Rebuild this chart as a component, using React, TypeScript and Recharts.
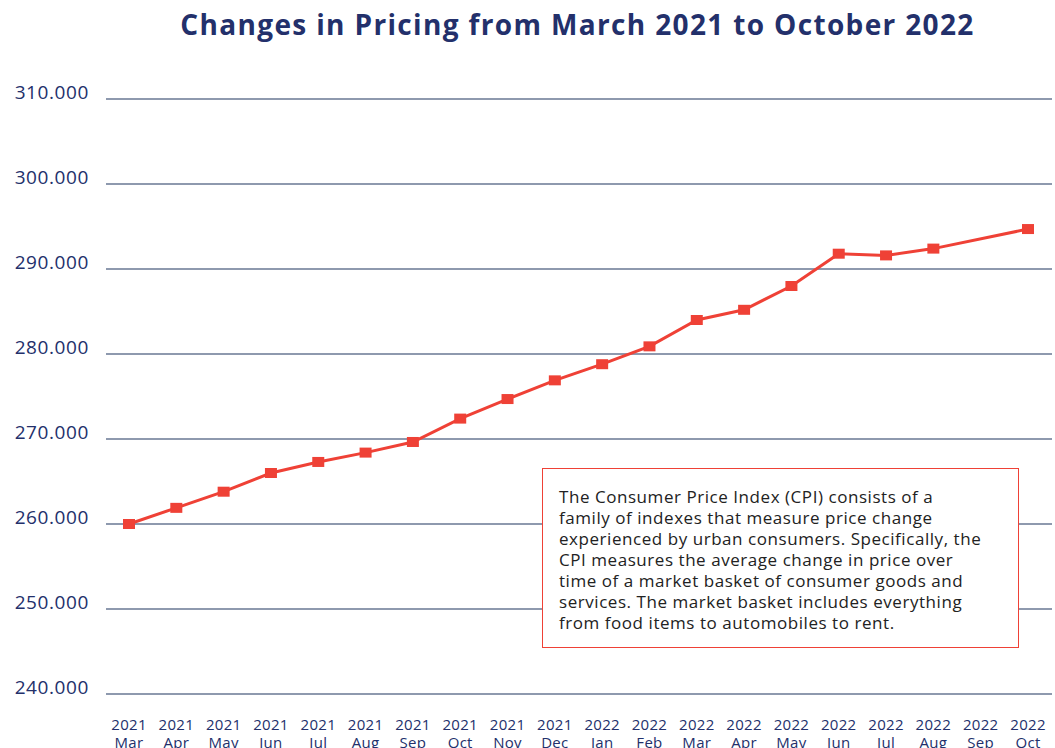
import { LineChart, Line, XAxis, YAxis, CartesianGrid } from "recharts";

const months = [
  "Mar", "Apr", "May", "Jun", "Jul", "Aug", "Sep", "Oct", "Nov", "Dec",
  "Jan", "Feb", "Mar", "Apr", "May", "Jun", "Jul", "Aug", "Sep", "Oct",
];
const years = [
  "2021", "2021", "2021", "2021", "2021", "2021", "2021", "2021", "2021", "2021",
  "2022", "2022", "2022", "2022", "2022", "2022", "2022", "2022", "2022", "2022",
];
// Sep 2022 has no point in the source, the line just joins Aug to Oct
const cpi = [
  260.0, 261.9, 263.8, 266.0, 267.3, 268.4, 269.65, 272.4, 274.7, 276.9,
  278.8, 280.9, 284.0, 285.2, 288.0, 291.8, 291.6, 292.4, null, 294.7,
];
const yTicks = [240, 250, 260, 270, 280, 290, 300, 310];

const title = "Changes in Pricing from March 2021 to October 2022";
const noteLines = [
  "The Consumer Price Index (CPI) consists of a",
  "family of indexes that measure price change",
  "experienced by urban consumers. Specifically, the",
  "CPI measures the average change in price over",
  "time of a market basket of consumer goods and",
  "services. The market basket includes everything",
  "from food items to automobiles to rent.",
];

const data = months.map((m, i) => ({ key: `${years[i]}-${i}`, month: m, year: years[i], cpi: cpi[i] }));

const navy = "#23306b";
const red = "#ef4136";
const font = "'Open Sans', sans-serif";

const XTick = (props: any) => {
  const { x, y, payload } = props;
  const d = data[payload.index];
  return (
    <g transform={`translate(${x},${y})`}>
      <text textAnchor="middle" fill={navy} fontSize={15} fontFamily={font} letterSpacing={0.3}>
        <tspan x={0} y={28}>{d.year}</tspan>
        <tspan x={0} y={46}>{d.month}</tspan>
      </text>
    </g>
  );
};

const YTick = (props: any) => {
  const { y, payload } = props;
  return (
    <text x={89} y={y - 5} textAnchor="end" dominantBaseline="middle" fill={navy} fontSize={19} fontFamily={font} letterSpacing={0.6}>
      {payload.value.toFixed(3)}
    </text>
  );
};

const Square = (props: any) => {
  const { cx, cy, index } = props;
  if (cx == null || cy == null || props.value == null) return <g key={index} />;
  return <rect key={index} x={cx - 6} y={cy - 5} width={12} height={10} fill={red} />;
};

export default function App() {
  return (
    <div style={{ position: "absolute", left: 0, top: 0, width: 1055, height: 748, background: "#fff", overflow: "hidden" }}>
      <div
        style={{
          position: "absolute",
          left: 0,
          width: 1155,
          top: 4,
          textAlign: "center",
          fontFamily: font,
          fontWeight: 700,
          fontSize: 28,
          letterSpacing: 1.35,
          color: navy,
          lineHeight: "40px",
        }}
      >
        {title}
      </div>
      <LineChart width={1055} height={748} data={data} margin={{ top: 99, right: 3, bottom: 4, left: 0 }}>
        <CartesianGrid vertical={false} stroke="#8e99ae" strokeWidth={2} />
        <XAxis
          dataKey="key"
          axisLine={false}
          tickLine={false}
          interval={0}
          height={50}
          padding={{ left: 23, right: 24 }}
          tick={<XTick />}
        />
        <YAxis
          domain={[240, 310]}
          ticks={yTicks}
          axisLine={false}
          tickLine={false}
          width={106}
          tick={<YTick />}
        />
        <Line
          type="linear"
          dataKey="cpi"
          stroke={red}
          strokeWidth={3}
          connectNulls
          dot={<Square />}
          activeDot={false}
          isAnimationActive={false}
        />
      </LineChart>
      <div
        style={{
          position: "absolute",
          left: 542,
          top: 468,
          width: 477,
          height: 180,
          boxSizing: "border-box",
          border: `1.5px solid ${red}`,
          background: "#fff",
          padding: "17px 0 0 16px",
          fontFamily: font,
          fontSize: 17,
          letterSpacing: 0.55,
          lineHeight: "21px",
          color: "#222",
          whiteSpace: "nowrap",
        }}
      >
        {noteLines.map((l) => (
          <div key={l}>{l}</div>
        ))}
      </div>
    </div>
  );
}
